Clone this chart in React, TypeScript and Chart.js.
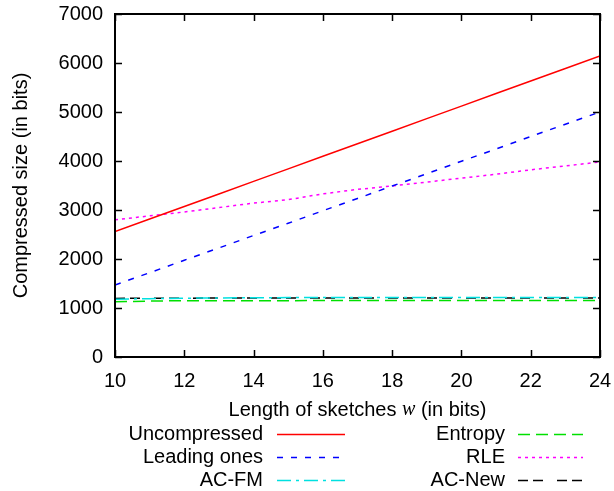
import React, { useEffect, useRef } from "react";
import { Chart, registerables } from "chart.js";

Chart.register(...registerables);

const widths = [10, 11, 12, 13, 14, 15, 16, 17, 18, 19, 20, 21, 22, 23, 24];
const uncompressed = [2560, 2816, 3072, 3328, 3584, 3840, 4096, 4352, 4608, 4864, 5120, 5376, 5632, 5888, 6144];
const leadingOnes = [1470, 1720, 1975, 2225, 2480, 2730, 2985, 3235, 3490, 3740, 3995, 4245, 4500, 4750, 5000];
const acFM = [1180, 1190, 1200, 1205, 1210, 1212, 1215, 1215, 1215, 1215, 1215, 1215, 1215, 1215, 1215];
const entropy = [1130, 1140, 1150, 1150, 1150, 1150, 1152, 1152, 1152, 1152, 1152, 1152, 1152, 1152, 1152];
const rle = [2800, 2880, 2960, 3050, 3140, 3210, 3330, 3420, 3490, 3570, 3650, 3730, 3820, 3900, 3980];
const acNew = [1195, 1200, 1200, 1205, 1205, 1205, 1205, 1205, 1205, 1205, 1205, 1205, 1205, 1205, 1205];
const yTicks = [0, 1000, 2000, 3000, 4000, 5000, 6000, 7000];
const xTicks = [10, 12, 14, 16, 18, 20, 22, 24];

const FONT = "Liberation Sans, Arial, Helvetica, sans-serif";
const FS = 20;

type Series = { label: string; data: number[]; color: string; dash: number[] };
const series: Series[] = [
  { label: "Uncompressed", data: uncompressed, color: "#ff0000", dash: [] },
  { label: "Leading ones", data: leadingOnes, color: "#0000ff", dash: [6, 8] },
  { label: "AC-FM", data: acFM, color: "#00e0e0", dash: [14, 5, 3, 5] },
  { label: "Entropy", data: entropy, color: "#00e000", dash: [12, 6] },
  { label: "RLE", data: rle, color: "#ff00ff", dash: [3, 4] },
  { label: "AC-New", data: acNew, color: "#000000", dash: [10, 5, 10, 14] },
];

const zeroPad = (s: any) => {
  s.paddingLeft = 0;
  s.paddingRight = 0;
  s.paddingTop = 0;
  s.paddingBottom = 0;
};

const decorPlugin = {
  id: "decor",
  afterDraw(chart: any) {
    const ctx = chart.ctx as CanvasRenderingContext2D;
    const a = chart.chartArea;
    const xs = chart.scales.x;
    const ys = chart.scales.y;
    ctx.save();
    ctx.strokeStyle = "#000";
    ctx.lineWidth = 1.5;
    ctx.setLineDash([]);
    const tl = 7;
    ctx.beginPath();
    for (const v of yTicks) {
      const y = Math.round(ys.getPixelForValue(v)) + 0.5;
      ctx.moveTo(a.left, y);
      ctx.lineTo(a.left + tl, y);
      ctx.moveTo(a.right, y);
      ctx.lineTo(a.right - tl, y);
    }
    for (const v of xTicks) {
      const x = Math.round(xs.getPixelForValue(v)) + 0.5;
      ctx.moveTo(x, a.bottom);
      ctx.lineTo(x, a.bottom - tl);
      ctx.moveTo(x, a.top);
      ctx.lineTo(x, a.top + tl);
    }
    ctx.stroke();
    ctx.lineWidth = 2;
    ctx.strokeRect(a.left, a.top, a.right - a.left, a.bottom - a.top);

    ctx.fillStyle = "#000";
    ctx.font = `${FS}px ${FONT}`;
    ctx.textBaseline = "middle";
    ctx.save();
    ctx.translate(21, (a.top + a.bottom) / 2);
    ctx.rotate(-Math.PI / 2);
    ctx.textAlign = "center";
    ctx.fillText("Compressed size (in bits)", 0, 0);
    ctx.restore();

    const p1 = "Length of sketches ";
    const p2 = "w";
    const p3 = " (in bits)";
    const sansFont = `${FS}px ${FONT}`;
    const serifFont = `italic ${FS}px Liberation Serif, Times New Roman, serif`;
    ctx.font = sansFont;
    const w1 = ctx.measureText(p1).width;
    const w3 = ctx.measureText(p3).width;
    ctx.font = serifFont;
    const w2 = ctx.measureText(p2).width;
    const total = w1 + w2 + w3;
    const x0 = (a.left + a.right) / 2 - total / 2;
    const ty = 410;
    ctx.textAlign = "left";
    ctx.font = sansFont;
    ctx.fillText(p1, x0, ty);
    ctx.font = serifFont;
    ctx.fillText(p2, x0 + w1, ty);
    ctx.font = sansFont;
    ctx.fillText(p3, x0 + w1 + w2, ty);

    const rows = [434, 457, 480];
    const cols = [
      { textRight: 263, l0: 277, l1: 345 },
      { textRight: 505, l0: 518, l1: 583 },
    ];
    series.forEach((s, i) => {
      const c = cols[Math.floor(i / 3)];
      const y = rows[i % 3];
      ctx.font = sansFont;
      ctx.textAlign = "right";
      ctx.fillStyle = "#000";
      ctx.fillText(s.label, c.textRight, y);
      ctx.strokeStyle = s.color;
      ctx.lineWidth = 1.5;
      ctx.setLineDash(s.dash);
      ctx.beginPath();
      ctx.moveTo(c.l0, y + 0.5);
      ctx.lineTo(c.l1, y + 0.5);
      ctx.stroke();
    });
    ctx.restore();
  },
};

export default function App() {
  const ref = useRef<HTMLCanvasElement | null>(null);
  useEffect(() => {
    if (!ref.current) return;
    const chart = new Chart(ref.current, {
      type: "line",
      data: {
        datasets: series.map((s) => ({
          label: s.label,
          data: s.data.map((v, i) => ({ x: widths[i], y: v })),
          borderColor: s.color,
          borderDash: s.dash,
          borderWidth: 1.5,
          pointRadius: 0,
          fill: false,
          tension: 0,
        })),
      },
      plugins: [decorPlugin],
      options: {
        animation: false,
        responsive: false,
        layout: { padding: { top: 14, right: 14, left: 0, bottom: 0 } },
        plugins: { legend: { display: false }, tooltip: { enabled: false } },
        scales: {
          x: {
            type: "linear",
            min: 10,
            max: 24,
            afterFit: (s: any) => {
              s.height = 134;
              zeroPad(s);
            },
            afterBuildTicks: (s: any) => {
              s.ticks = xTicks.map((v) => ({ value: v }));
            },
            grid: { display: false, drawTicks: false, tickLength: 0 },
            border: { display: false },
            ticks: {
              padding: 12,
              color: "#000",
              font: { family: FONT, size: FS },
              maxRotation: 0,
              autoSkip: false,
              callback: (v: any) => String(v),
            },
          },
          y: {
            type: "linear",
            min: 0,
            max: 7000,
            afterFit: (s: any) => {
              s.width = 115;
              zeroPad(s);
            },
            afterBuildTicks: (s: any) => {
              s.ticks = yTicks.map((v) => ({ value: v }));
            },
            grid: { display: false, drawTicks: false, tickLength: 0 },
            border: { display: false },
            ticks: {
              padding: 12,
              color: "#000",
              font: { family: FONT, size: FS },
              autoSkip: false,
              callback: (v: any) => String(v),
            },
          },
        },
      },
    } as any);
    return () => chart.destroy();
  }, []);
  return (
    <div style={{ position: "fixed", left: 0, top: 0, width: 614, height: 491, background: "#fff" }}>
      <canvas ref={ref} width={614} height={491} style={{ display: "block", width: 614, height: 491 }} />
    </div>
  );
}
